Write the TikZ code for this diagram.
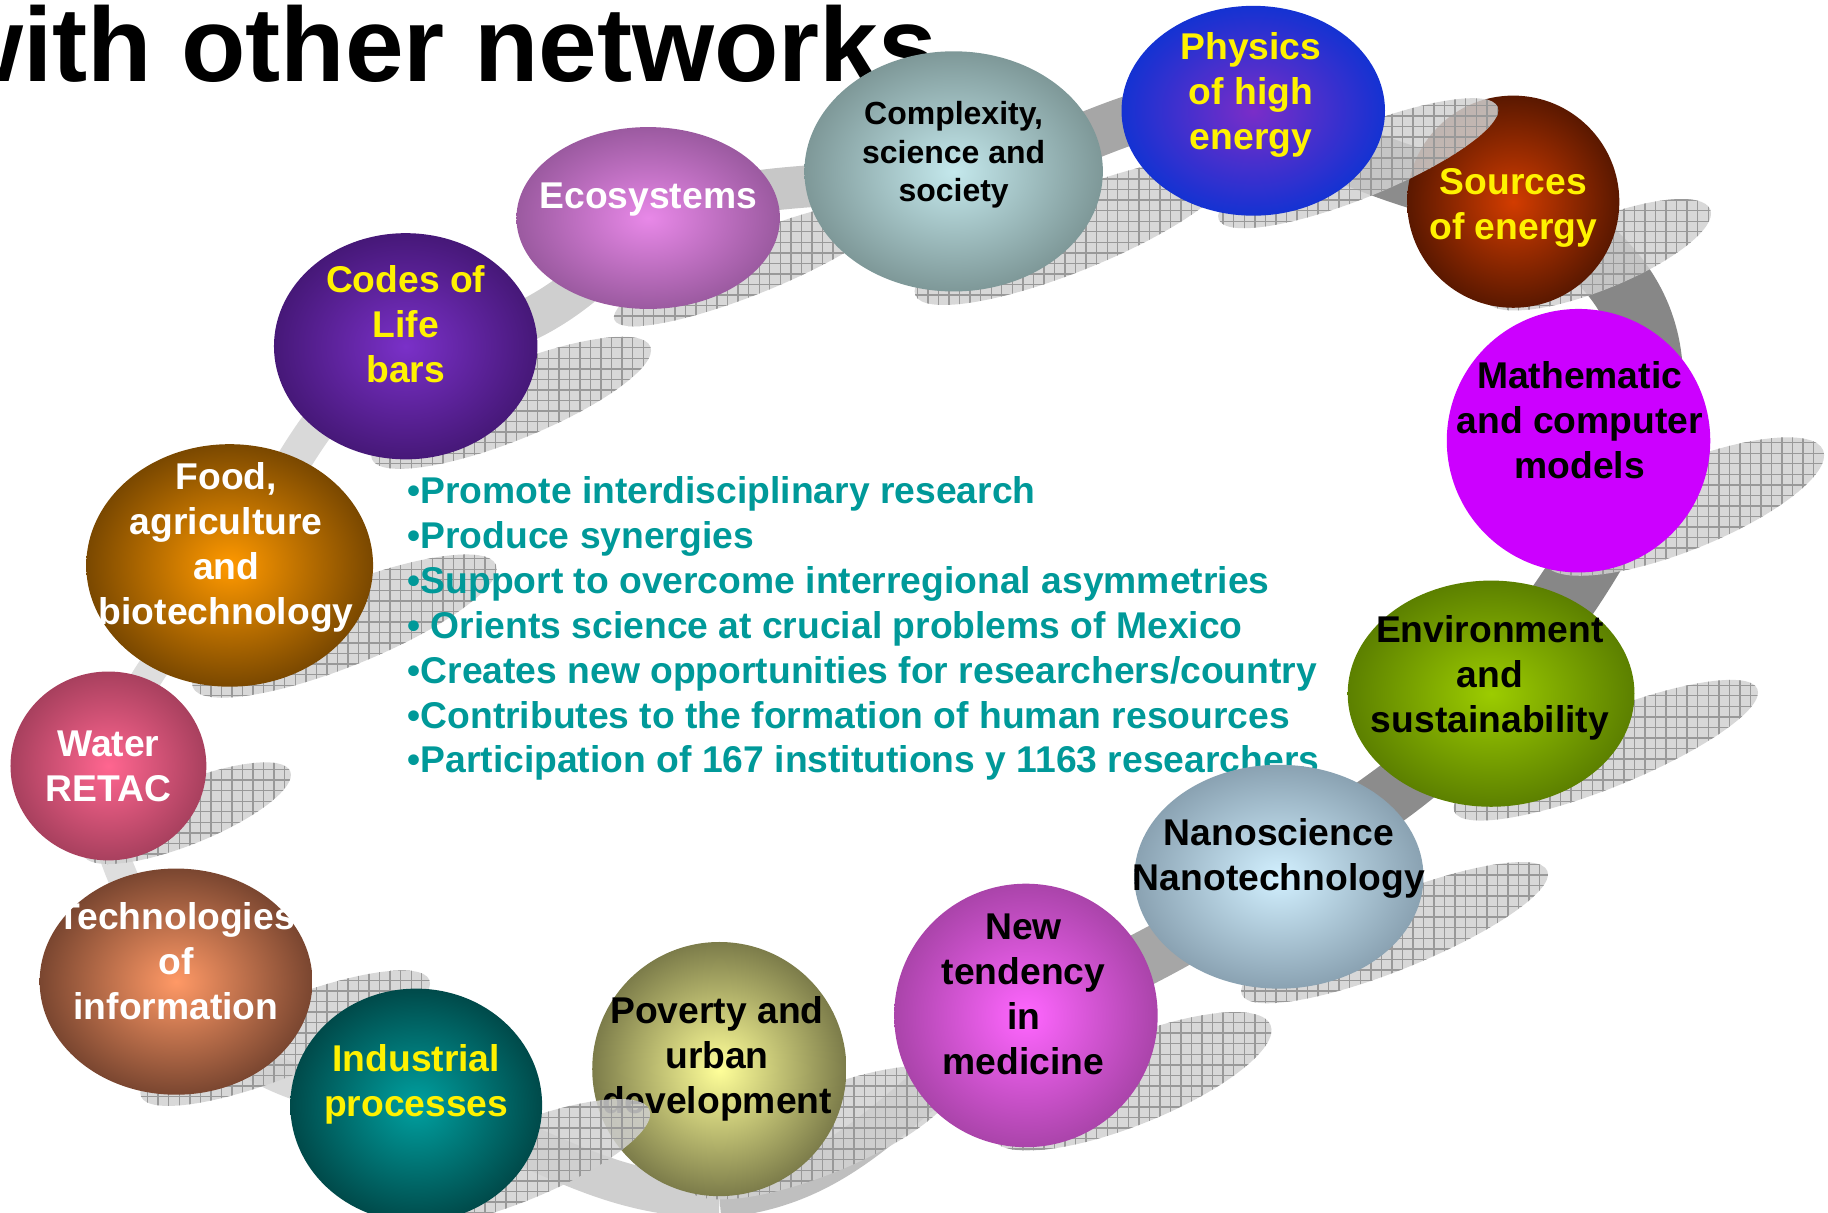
\documentclass[tikz,border=0pt]{standalone}
\usepackage{fontspec}
\setmainfont{Liberation Sans}
\usetikzlibrary{shapes.geometric,patterns}

\definecolor{ecoIn}{RGB}{232,136,232}
\definecolor{ecoOut}{RGB}{155,90,160}
\definecolor{compIn}{RGB}{196,232,236}
\definecolor{compOut}{RGB}{126,152,152}
\definecolor{physIn}{RGB}{122,45,200}
\definecolor{physOut}{RGB}{20,50,210}
\definecolor{srcIn}{RGB}{210,60,0}
\definecolor{srcOut}{RGB}{90,24,0}
\definecolor{mathFill}{RGB}{204,0,255}
\definecolor{envIn}{RGB}{156,204,0}
\definecolor{envOut}{RGB}{92,128,0}
\definecolor{nanoIn}{RGB}{210,240,255}
\definecolor{nanoOut}{RGB}{138,162,178}
\definecolor{newIn}{RGB}{255,102,255}
\definecolor{newOut}{RGB}{170,68,170}
\definecolor{povIn}{RGB}{255,255,153}
\definecolor{povOut}{RGB}{124,124,74}
\definecolor{indIn}{RGB}{0,160,160}
\definecolor{indOut}{RGB}{0,74,74}
\definecolor{techIn}{RGB}{255,153,102}
\definecolor{techOut}{RGB}{122,70,48}
\definecolor{waterIn}{RGB}{255,102,144}
\definecolor{waterOut}{RGB}{168,64,94}
\definecolor{foodIn}{RGB}{255,153,0}
\definecolor{foodOut}{RGB}{122,72,0}
\definecolor{codesIn}{RGB}{122,48,200}
\definecolor{codesOut}{RGB}{70,24,120}
\definecolor{pointcol}{RGB}{0,153,153}

\pgfdeclarelayer{ring}
\pgfdeclarelayer{shade}
\pgfsetlayers{ring,shade,main}

\tikzset{
  bubble/.style 2 args={ellipse, inner sep=0pt, minimum width=#1*0.23316mm, minimum height=#2*0.23316mm},
  ball/.style 2 args={shading=radial, inner color=#1, outer color=#2},
  btext/.style={font=\bfseries\fontsize{10.6}{12.8}\selectfont, align=center, inner sep=0pt, text depth=0pt},
  band/.style={line width=#1*0.11658mm},
  shadowell/.style={fill=black!18, fill opacity=.85, postaction={pattern=grid, pattern color=black!40}},
  point/.style={anchor=base west, inner sep=0pt, text=pointcol, font=\bfseries\fontsize{10.6}{12.8}\selectfont}
}

\begin{document}
\begin{tikzpicture}[x=0.11658mm, y=-0.11658mm]
\useasboundingbox (0,0) rectangle (1568,1040);

\begin{pgfonlayer}{shade}
\foreach \cx/\cy/\rx/\ry in {556/187/113/78, 818/147/128/103, 1298/173/91/91, 1354/378/113/113,
    1279/595/123/97, 1097/752/124/96, 880/871/113/113, 617/917/109/109,
    151/842/117/97, 93/657/84/81, 197/485/123/104, 348/297/113/97}
  \fill[shadowell, rotate around={22:(\cx+0.8*\rx,\cy+0.5*\ry)}]
    (\cx+0.8*\rx,\cy+0.5*\ry) ellipse [x radius=1.14*\rx, y radius=0.33*\ry];
\end{pgfonlayer}

\node[anchor=base west, inner sep=0pt, font=\bfseries\fontsize{30}{36}\selectfont] (title) at (-51,70) {with other networks};

\foreach \t [count=\i] in {{•Promote interdisciplinary research},{•Produce synergies},
    {•Support to overcome interregional asymmetries},{• Orients science at crucial problems of Mexico},
    {•Creates new opportunities for researchers/country},{•Contributes to the formation of human resources},
    {•Participation of 167 institutions y 1163 researchers}}
  \node[point] (b\i) at (349,{393.5+38.5*\i}) {\t};

\node[bubble={113}{78}, ball={ecoIn}{ecoOut}] (eco) at (556,187) {};
\node[btext, white] (eco-t) at (556,168) {Ecosystems};

\node[bubble={128}{103}, ball={compIn}{compOut}] (comp) at (818,147) {};
\node[btext, font=\bfseries\fontsize{9.1}{10.9}\selectfont] (comp-t) at (818,130) {Complexity,\\science and\\society};

\node[bubble={91}{91}, ball={srcIn}{srcOut}] (src) at (1298,173) {};
\node[btext, yellow] (src-t) at (1298,175) {Sources\\of energy};

\fill[shadowell, rotate around={22:(1165,140)}] (1165,140) ellipse [x radius=129, y radius=30];
\node[bubble={113}{90}, ball={physIn}{physOut}] (phys) at (1075,95) {};
\node[btext, yellow] (phys-t) at (1073,78) {Physics\\of high\\energy};

\node[bubble={113}{113}, fill=mathFill] (math) at (1354,378) {};
\node[btext] (math-t) at (1355,360) {Mathematic\\and computer\\models};

\node[bubble={123}{97}, ball={envIn}{envOut}] (env) at (1279,595) {};
\node[btext] (env-t) at (1278,578) {Environment\\and\\sustainability};

\node[bubble={124}{96}, ball={nanoIn}{nanoOut}] (nano) at (1097,752) {};
\node[btext] (nano-t) at (1097,733) {Nanoscience\\Nanotechnology};

\node[bubble={113}{113}, ball={newIn}{newOut}] (new) at (880,871) {};
\node[btext] (new-t) at (878,853) {New\\tendency\\in\\medicine};

\node[bubble={109}{109}, ball={povIn}{povOut}] (pov) at (617,917) {};
\node[btext] (pov-t) at (615,905) {Poverty and\\urban\\development};

\fill[shadowell, rotate around={22:(443,998)}] (443,998) ellipse [x radius=123, y radius=33];
\node[bubble={108}{100}, ball={indIn}{indOut}] (ind) at (357,948) {};
\node[btext, yellow] (ind-t) at (357,927) {Industrial\\processes};

\node[bubble={117}{97}, ball={techIn}{techOut}] (tech) at (151,842) {};
\node[btext, white] (tech-t) at (151,824) {Technologies\\of\\information};

\node[bubble={84}{81}, ball={waterIn}{waterOut}] (water) at (93,657) {};
\node[btext, white] (water-t) at (93,657) {Water\\RETAC};

\node[bubble={123}{104}, ball={foodIn}{foodOut}] (food) at (197,485) {};
\node[btext, white] (food-t) at (194,466) {Food,\\agriculture\\and\\biotechnology};

\node[bubble={113}{97}, ball={codesIn}{codesOut}] (codes) at (348,297) {};
\node[btext, yellow] (codes-t) at (348,278) {Codes of\\Life\\bars};

\begin{pgfonlayer}{ring}
\draw[band=26, black!13] (water.center) to[out=75,in=-125] (food.center);
\draw[band=30, black!15] (food.center) to[out=55,in=-150] (codes.center);
\draw[band=36, black!19] (codes.center) to[out=0,in=-130] (eco.center);
\draw[band=36, black!22] (eco.center) to[out=20,in=-170] (comp.center);
\draw[band=42, black!35] (comp.center) to[out=3,in=168] (phys.center);
\draw[band=52, black!45] (phys.center) to[out=-25,in=170] (src.center);
\draw[band=56, black!47] (src.center) to[out=-25,in=50,looseness=1.3] (env.center);
\draw[band=50, black!45] (env.center) to[out=-125,in=40] (nano.center);
\draw[band=46, black!35] (nano.center) to[out=-145,in=25] (new.center);
\draw[band=36, black!25] (new.center) to[out=-150,in=5] (pov.south);
\draw[band=36, black!19] (pov.south) to[out=180,in=-15] (ind.center);
\draw[band=30, black!15] (ind.center) to[out=175,in=-60] (tech.center);
\draw[band=26, black!13] (tech.center) to[out=115,in=-100] (water.center);
\end{pgfonlayer}
\end{tikzpicture}
\end{document}
